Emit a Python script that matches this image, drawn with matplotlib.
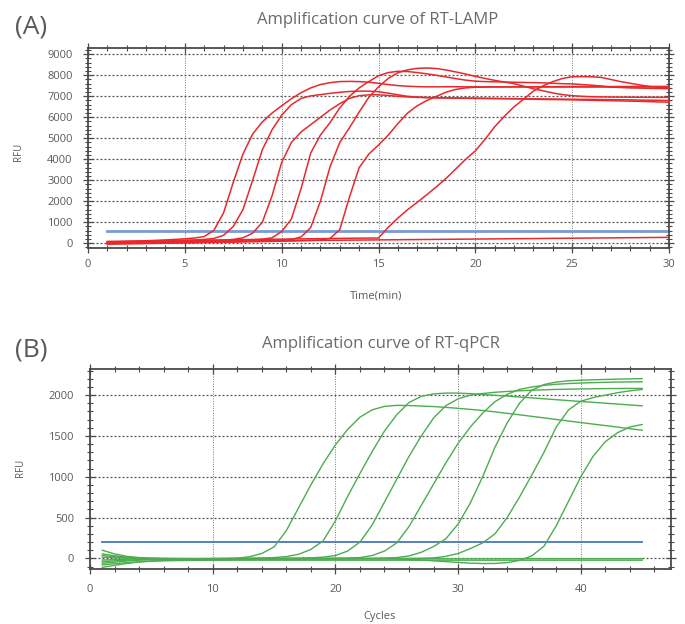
import matplotlib
matplotlib.use("Agg")
import matplotlib.pyplot as plt
from matplotlib.ticker import MultipleLocator

plt.rcParams['font.family'] = ['Open Sans', 'DejaVu Sans']

# ---------------- RT-LAMP data (time in min, RFU) ----------------
lamp_time = [1.0, 1.5, 2.0, 2.5, 3.0, 3.5, 4.0, 4.5, 5.0, 5.5,
             6.0, 6.5, 7.0, 7.5, 8.0, 8.5, 9.0, 9.5, 10.0, 10.5,
             11.0, 11.5, 12.0, 12.5, 13.0, 13.5, 14.0, 14.5, 15.0, 15.5,
             16.0, 16.5, 17.0, 17.5, 18.0, 18.5, 19.0, 19.5, 20.0, 20.5,
             21.0, 21.5, 22.0, 22.5, 23.0, 23.5, 24.0, 24.5, 25.0, 25.5,
             26.0, 26.5, 27.0, 27.5, 28.0, 28.5, 29.0, 29.5, 30.0]

lamp_s1 = [60, 75, 90, 105, 120, 140, 160, 185, 215, 250,
           320, 620, 1450, 2900, 4250, 5200, 5780, 6200, 6550, 6880,
           7170, 7400, 7560, 7650, 7700, 7710, 7700, 7670, 7620, 7560,
           7510, 7480, 7460, 7450, 7450, 7455, 7455, 7450, 7450, 7450,
           7450, 7448, 7448, 7446, 7446, 7446, 7445, 7445, 7445, 7445,
           7444, 7444, 7443, 7443, 7442, 7442, 7441, 7440, 7440]
lamp_s2 = [40, 50, 60, 70, 80, 92, 105, 120, 138, 158,
           185, 230, 380, 800, 1600, 3000, 4450, 5400, 6100, 6600,
           6900, 7020, 7080, 7140, 7190, 7230, 7245, 7245, 7220, 7150,
           7070, 7000, 6960, 6940, 6930, 6925, 6920, 6915, 6910, 6905,
           6900, 6895, 6890, 6885, 6880, 6875, 6870, 6865, 6860, 6855,
           6850, 6845, 6840, 6835, 6830, 6820, 6815, 6810, 6800]
lamp_s3 = [20, 28, 36, 44, 52, 61, 70, 80, 91, 103,
           116, 130, 150, 185, 260, 480, 1000, 2250, 3850, 4800,
           5300, 5650, 6000, 6350, 6650, 6900, 7030, 7070, 7070, 7040,
           7000, 6970, 6950, 6940, 6930, 6920, 6910, 6905, 6900, 6895,
           6890, 6885, 6880, 6870, 6860, 6850, 6845, 6840, 6830, 6820,
           6810, 6800, 6790, 6780, 6770, 6760, 6745, 6730, 6720]
lamp_s4 = [0, 9, 18, 27, 36, 45, 54, 64, 74, 85,
           96, 108, 121, 135, 150, 168, 195, 260, 560, 1150,
           2600, 4300, 5150, 5750, 6450, 7000, 7400, 7700, 7980, 8130,
           8190, 8180, 8130, 8070, 8000, 7920, 7840, 7770, 7720, 7700,
           7690, 7680, 7670, 7660, 7650, 7640, 7620, 7600, 7590, 7560,
           7530, 7490, 7440, 7420, 7400, 7390, 7380, 7370, 7360]
lamp_s5 = [-20, -13, -6, 1, 8, 15, 22, 30, 38, 46,
           55, 64, 73, 83, 94, 106, 119, 134, 152, 185,
           300, 750, 2000, 3650, 4800, 5500, 6250, 6950, 7450, 7850,
           8120, 8260, 8330, 8350, 8320, 8250, 8160, 8060, 7950, 7850,
           7760, 7680, 7600, 7480, 7360, 7260, 7160, 7080, 7030, 7000,
           6980, 6970, 6965, 6960, 6958, 6955, 6952, 6950, 6950]
lamp_s6 = [-40, -33, -26, -19, -12, -5, 2, 9, 16, 23,
           31, 39, 47, 55, 64, 73, 82, 92, 102, 113,
           125, 140, 160, 230, 650, 2200, 3600, 4250, 4680, 5150,
           5700, 6200, 6550, 6800, 7000, 7200, 7330, 7400, 7430, 7440,
           7445, 7450, 7452, 7454, 7455, 7456, 7458, 7460, 7460, 7462,
           7462, 7464, 7464, 7466, 7466, 7468, 7468, 7470, 7470]
lamp_s7 = [90, 96, 102, 108, 114, 120, 126, 132, 138, 144,
           150, 156, 162, 168, 174, 180, 186, 192, 198, 204,
           210, 216, 222, 228, 234, 240, 245, 248, 252, 760,
           1200, 1600, 1950, 2320, 2700, 3100, 3550, 4000, 4400, 4950,
           5550, 6050, 6500, 6870, 7250, 7500, 7700, 7850, 7930, 7940,
           7930, 7900, 7800, 7700, 7620, 7540, 7470, 7420, 7400]
lamp_neg = [50, 55, 58, 62, 67, 70, 74, 79, 82, 86,
            90, 95, 98, 102, 107, 110, 114, 118, 122, 127,
            130, 134, 138, 143, 146, 150, 155, 158, 162, 166,
            170, 175, 178, 182, 186, 190, 195, 198, 202, 206,
            210, 214, 219, 222, 226, 230, 235, 238, 242, 246,
            250, 255, 258, 262, 266, 270, 275, 278, 282]
lamp_threshold = 600

# ---------------- RT-qPCR data (cycle, RFU) ----------------
qpcr_cycles = list(range(1, 46))

qpcr_s1 = [100, 55, 25, 10, 3, 0, -2, -3, -3, -2,
           0, 3, 20, 60, 140, 340, 620, 900, 1160, 1390,
           1580, 1730, 1820, 1862, 1875, 1872, 1866, 1860, 1850, 1838,
           1825, 1812, 1795, 1777, 1759, 1740, 1721, 1702, 1683, 1664,
           1645, 1627, 1608, 1589, 1570]
qpcr_s2 = [55, 32, 15, 5, 0, -2, -3, -4, -4, -3,
           -2, 0, 2, 5, 10, 22, 50, 110, 215, 460,
           760, 1040, 1310, 1560, 1760, 1910, 1985, 2015, 2025, 2025,
           2018, 2008, 1998, 1988, 1977, 1966, 1955, 1944, 1933, 1922,
           1912, 1901, 1890, 1880, 1869]
qpcr_s3 = [35, 20, 8, 2, -2, -4, -5, -5, -5, -5,
           -4, -3, -2, 0, 1, 2, 4, 7, 15, 35,
           90, 200, 410, 690, 970, 1250, 1500, 1720, 1870, 1955,
           2000, 2020, 2035, 2045, 2053, 2060, 2065, 2070, 2073, 2076,
           2078, 2080, 2081, 2082, 2082]
qpcr_s4 = [-20, -15, -10, -6, -4, -3, -3, -3, -3, -3,
           -3, -3, -2, -2, -2, -1, 0, 1, 2, 3,
           5, 10, 35, 90, 190, 390, 650, 910, 1170, 1410,
           1610, 1780, 1920, 2010, 2070, 2100, 2120, 2133, 2142, 2148,
           2153, 2157, 2160, 2162, 2163]
qpcr_s5 = [-60, -45, -32, -22, -15, -10, -8, -6, -5, -4,
           -4, -4, -4, -4, -4, -4, -3, -3, -2, -2,
           -1, 0, 2, 5, 10, 30, 75, 145, 240, 420,
           680, 1000, 1360, 1660, 1900, 2060, 2130, 2160, 2175, 2183,
           2188, 2192, 2196, 2199, 2202]
qpcr_s6 = [-110, -85, -62, -44, -32, -24, -18, -14, -12, -10,
           -9, -8, -8, -7, -7, -6, -6, -5, -5, -4,
           -4, -3, -3, -2, -1, 0, 2, 6, 25, 60,
           120, 190, 300, 500, 750, 1020, 1300, 1610, 1820, 1925,
           1970, 2000, 2030, 2052, 2070]
qpcr_s7 = [15, 8, 3, 0, -2, -3, -3, -3, -3, -3,
           -3, -3, -3, -3, -3, -3, -3, -3, -3, -3,
           -3, -3, -3, -4, -6, -12, -20, -30, -40, -50,
           -58, -63, -62, -52, -25, 30, 150, 400, 700, 1000,
           1250, 1430, 1540, 1610, 1640]
qpcr_neg1 = [-40, -30, -22, -16, -12, -9, -7, -6, -5, -5,
             -5, -5, -5, -5, -5, -5, -5, -5, -5, -5,
             -5, -5, -5, -5, -5, -5, -5, -5, -5, -5,
             -5, -5, -5, -4, -4, -4, -4, -4, -4, -4,
             -4, -4, -4, -4, -4]
qpcr_neg2 = [-80, -65, -52, -42, -35, -30, -27, -25, -24, -23,
             -23, -22, -22, -22, -22, -22, -22, -22, -22, -22,
             -22, -22, -22, -22, -22, -22, -22, -22, -22, -22,
             -22, -22, -22, -22, -22, -22, -22, -22, -22, -22,
             -22, -22, -22, -22, -22]
qpcr_threshold = 200

TEXT = '#5a5a5a'
FRAME = '#4a4a4a'
W, H = 685, 624

fig = plt.figure(figsize=(W / 100, H / 100), dpi=100)


def px_axes(left, top, right, bottom):
    return fig.add_axes([left / W, 1 - bottom / H, (right - left) / W, (bottom - top) / H])


def style_axes(ax, xpad, ypad):
    for sp in ax.spines.values():
        sp.set_color(FRAME)
        sp.set_linewidth(1.3)
    ax.tick_params(which='both', direction='inout', top=True, right=True,
                   color=FRAME, labelcolor=TEXT, labelsize=8)
    ax.tick_params(which='major', length=7, width=0.9)
    ax.tick_params(which='minor', length=4.5, width=0.8)
    ax.tick_params(axis='x', which='major', pad=xpad)
    ax.tick_params(axis='y', which='major', pad=ypad)
    ax.grid(which='major', axis='y', color='#555555', linestyle=(0, (1.6, 1.6)), linewidth=0.9)
    ax.grid(which='major', axis='x', color='#777777', linestyle=(0, (1.0, 1.5)), linewidth=0.7)
    ax.set_axisbelow(True)


# ---------------- Panel A: RT-LAMP ----------------
axA = px_axes(88, 48, 669, 248)
axA.set_xlim(0, 30)
axA.set_ylim(-224, 9300)
axA.set_xticks(range(0, 31, 5))
axA.set_yticks(range(0, 9001, 1000))
axA.xaxis.set_minor_locator(MultipleLocator(1))
axA.yaxis.set_minor_locator(MultipleLocator(200))
style_axes(axA, xpad=4.5, ypad=7.5)

axA.plot([lamp_time[0], lamp_time[-1]], [lamp_threshold, lamp_threshold],
         color='#7b9bd3', linewidth=2.0, zorder=2)
for series in [lamp_neg, lamp_s7, lamp_s6, lamp_s5, lamp_s4, lamp_s3, lamp_s2, lamp_s1]:
    axA.plot(lamp_time, series, color='#e8292c', linewidth=1.1, zorder=3)

fig.text(15 / W, 1 - 27 / H, '(A)', fontsize=19, color=TEXT, ha='left', va='center')
fig.text(378 / W, 1 - 20 / H, 'Amplification curve of RT-LAMP', fontsize=12,
         color='#6a6a6a', ha='center', va='center')
fig.text(19 / W, 1 - 152 / H, 'RFU', fontsize=7, color=TEXT, rotation=90,
         ha='center', va='center')
fig.text(376 / W, 1 - 296 / H, 'Time(min)', fontsize=8, color=TEXT,
         ha='center', va='center')

# ---------------- Panel B: RT-qPCR ----------------
axB = px_axes(90, 369, 671, 569)
axB.set_xlim(0, 47.35)
axB.set_ylim(-130, 2320)
axB.set_xticks(range(0, 41, 10))
axB.set_yticks(range(0, 2001, 500))
axB.xaxis.set_minor_locator(MultipleLocator(2))
axB.yaxis.set_minor_locator(MultipleLocator(100))
style_axes(axB, xpad=7.6, ypad=8.0)

axB.plot([qpcr_cycles[0], qpcr_cycles[-1]], [qpcr_threshold, qpcr_threshold],
         color='#4a74c2', linewidth=1.3, zorder=2)
for series in [qpcr_neg2, qpcr_neg1, qpcr_s7, qpcr_s6, qpcr_s5, qpcr_s4,
               qpcr_s3, qpcr_s2, qpcr_s1]:
    axB.plot(qpcr_cycles, series, color='#4cad4f', linewidth=1.0, zorder=3)

fig.text(15 / W, 1 - 350 / H, '(B)', fontsize=19, color=TEXT, ha='left', va='center')
fig.text(381 / W, 1 - 344 / H, 'Amplification curve of RT-qPCR', fontsize=12,
         color='#6a6a6a', ha='center', va='center')
fig.text(21 / W, 1 - 468 / H, 'RFU', fontsize=7, color=TEXT, rotation=90,
         ha='center', va='center')
fig.text(380 / W, 1 - 617 / H, 'Cycles', fontsize=8, color=TEXT,
         ha='center', va='center')

fig.savefig('out.png', dpi=100)
